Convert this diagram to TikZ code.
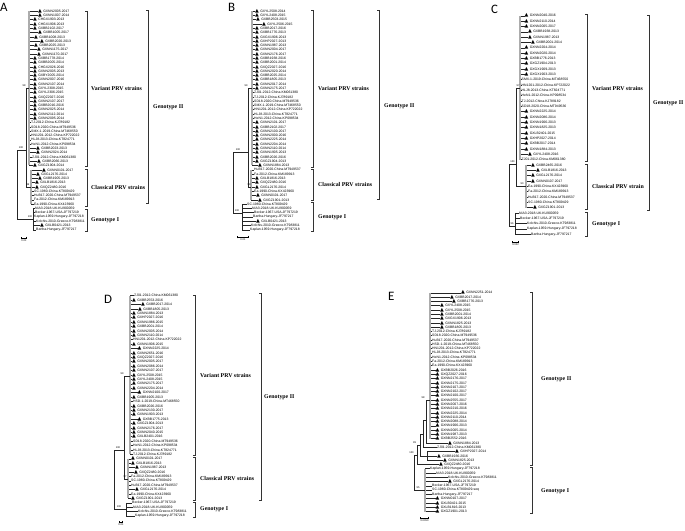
\documentclass[tikz,border=0pt]{standalone}
\usepackage{fontspec}
\usepackage{tikz}
\usetikzlibrary{arrows.meta}
\newfontfamily\leaffam{Liberation Sans}
\newfontfamily\labfam{Liberation Serif}
\newfontfamily\letfam{Carlito}
\newfontfamily\symfam{DejaVu Sans}
\newcommand{\tri}{{\symfam\fontsize{4.2}{4}\selectfont\char"25B2}\hspace{1.1pt}}

\begin{document}
\begin{tikzpicture}[x=0.03cm, y=-0.03cm,
    leaf/.style={anchor=west, inner sep=0pt, font=\leaffam\fontsize{2.9}{3}\selectfont},
    branch/.style={line width=0.3pt, black!85},
    spine/.style={line width=0.9pt, gray!65},
    bracket/.style={line width=0.45pt, black!80},
    grp/.style={anchor=west, inner sep=0pt, font=\labfam\bfseries\fontsize{5}{6}\selectfont},
    boot/.style={inner sep=0pt, font=\leaffam\fontsize{2.2}{2.5}\selectfont},
    panel/.style={anchor=base west, inner sep=0pt, font=\letfam\fontsize{11}{12}\selectfont},
    sbar/.style={line width=0.6pt, {Bar[width=2.5pt]}-{Bar[width=2.5pt]}}]
    \useasboundingbox (0,0) rectangle (685,530);

    % Panel letters
    \node[panel] (lA) at (0,11.5) {A};
    \node[panel] (lB) at (228,11.5) {B};
    \node[panel] (lC) at (491,13) {C};
    \node[panel] (lD) at (104,303) {D};
    \node[panel] (lE) at (388,300) {E};

    % ---------------- Tree A ----------------
    \foreach [count=\i] \px/\lx/\lab in {
        29/38/\tri GXNN2005-2017, 29/38/\tri GXNN1007-2014, 29/33/\tri CHGX1903-2013,
        29/33/\tri CHGX1906-2013, 29/33/\tri GXBB2102-2017, 29/38/\tri GXBB1005-2017,
        29/34/\tri GXBB1008-2013, 29/40/\tri GXBB2020-2013, 29/34/\tri GXBB2025-2013,
        29/37/\tri GXNN1175-2017, 29/37/\tri GXNN1170-2017, 29/33/\tri GXBB1778-2014,
        29/33/\tri GXBB2005-2014, 29/33/\tri CHGX2026-2016, 29/33/\tri GXNN2005-2013,
        29/33/\tri GXBY2005-2014, 29/33/\tri GXNN2007-2016, 29/33/\tri GXNN2107-2014,
        29/33/\tri GXYL2308-2015, 29/33/\tri GXYL2306-2015, 29/33/\tri GXQZ2027-2016,
        29/33/\tri GXNN2107-2017, 29/33/\tri GXBB2016-2016, 29/33/\tri GXNN2025-2014,
        29/33/\tri GXNN2112-2014, 29/33/\tri GXNN2095-2014,
        29/31/TJ-2012-China-KJ789182, 29/31/SD18-2020-China-MT949536,
        29/31/SMX-1-2019-China-MT468550, 29/31/HN1201-2012-China-KP722022,
        29/31/HLJ8-2013-China-KT824771, 29/31/HeN1-2012-China-KP098534,
        29/36/\tri GXBB2023-2013, 29/36/\tri GXNN2024-2014, 29/32/ZJ01-2012-China-KM061380,
        29/37/\tri GXBB2066-2013, 29/33/\tri GXGZ1904-2014,
        31/42/\tri GXNN0101-2017, 31/36/\tri GXGL2176-2014, 31/38/\tri GXBB1905-2013,
        31/35/\tri GXLB1816-2013, 31/35/\tri GXQZ2480-2016,
        31/34/SC-1980-China-KT809429, 31/34/HuB17-2020-China-MT949537,
        31/34/Fa-2012-China-KM189913, 31/34/Ea-1990-China-KX423960,
        33/35/NIA3-2018-UK-KU900059, 33/35/Becker-1967-USA-JF797219,
        33/34/Kaplan-1959-Hungary-JF797218, 33/36/Kolchis-2010-Greece-KT983811,
        33/40/\tri GXLB0421-2013, 33/36/Bartha-Hungary-JF797217} {
        \coordinate (Ab\i) at (\px, {11+(\i-1)*4.29});
        \node[leaf] (A\i) at (\lx, {11+(\i-1)*4.29}) {\lab};
        \draw[branch] (Ab\i) -- (A\i.west);
    }
    \coordinate (Aroot) at (17,150);
    \coordinate (Ag2) at (26,150);
    \coordinate (Ag1) at (33,219);
    \coordinate (Avar) at (29,88);
    \coordinate (Acla) at (31,187);
    \draw[spine] (Ab1) -- (Ab37);
    \draw[spine] (Ab38) -- (Ab46);
    \draw[branch] (Ab47) -- (Ab52);
    \draw[branch] (Ag2 |- Avar) -- (Avar) (Ag2 |- Acla) -- (Acla) (Ag2 |- Avar) -- (Ag2 |- Acla);
    \draw[branch] (Ag2) -- (Aroot) |- (Ag1);
    \node[boot] at (21,147.5) {100};
    \node[boot] at (24,85.5) {98};
    \node[boot] at (28,184.5) {99};
    \node[boot] at (30,216.5) {100};
    % brackets and groups
    \draw[bracket] (85,11) -| (87,166) -- (85,166);
    \draw[bracket] (85,169) -| (87,206) -- (85,206);
    \draw[bracket] (85,209) -| (87,231) -- (85,231);
    \draw[bracket] (146,10) -| (148,203) -- (146,203);
    \node[grp] (Avl) at (91,89) {Variant PRV strains};
    \node[grp] (Acl) at (91,188) {Classical PRV strains};
    \node[grp] (Ag1l) at (91,220) {Genotype I};
    \node[grp] (Ag2l) at (153,107) {Genotype II};
    \draw[sbar] (21,238) -- node[boot, below=1pt] {0.01} (27,238);

    % ---------------- Tree B ----------------
    \foreach [count=\i] \px/\lx/\lab in {
        252/255/\tri GXYL2508-2014, 252/255/\tri GXYL2408-2015, 252/256/\tri GXBB2503-2015,
        252/262/\tri GXYL2506-2015, 252/255/\tri GXBB2017-2016, 252/255/\tri GXBB1776-2013,
        252/255/\tri GXGX1906-2013, 252/255/\tri GXHP2027-2013, 252/255/\tri GXNN1987-2013,
        252/255/\tri GXNN2004-2017, 252/255/\tri GXNN2176-2017, 252/255/\tri GXBB1938-2016,
        252/255/\tri GXBB2001-2014, 252/255/\tri GXQZ2027-2016, 252/255/\tri GXNN2020-2014,
        252/255/\tri GXBB2025-2014, 252/255/\tri GXBB1805-2013, 252/255/\tri GXNN2017-2014,
        252/255/\tri GXNN2175-2017,
        252/254/ZJ01-2012-China-KM061380, 252/254/TJ-2012-China-KJ789182,
        252/254/SD18-2020-China-MT949536, 252/254/SMX-1-2019-China-MT468550,
        252/254/HN1201-2012-China-KP722022, 252/254/HLJ8-2013-China-KT824771,
        252/254/HeN1-2012-China-KP098534,
        252/255/\tri GXNN2101-2017, 252/255/\tri GXBB2102-2017, 252/255/\tri GXNN2100-2017,
        252/255/\tri GXNN2000-2016, 252/255/\tri GXNN2225-2014, 252/255/\tri GXNN2204-2014,
        252/255/\tri GXNN2110-2014, 252/255/\tri GXNN1905-2013, 252/255/\tri GXBB2026-2016,
        252/255/\tri GXGZ1904-2013, 252/258/\tri GXNN1884-2013,
        251/254/HuB17-2020-China-MT949537, 251/254/Fa-2012-China-KM189913,
        251/255/\tri GXLB1816-2013, 251/255/\tri GXQZ2480-2016, 251/255/\tri GXGL2176-2014,
        251/254/Ea-1990-China-KX423960, 251/256/\tri GXNN0101-2017, 251/258/\tri GXGZ1901-2013,
        242/247/SC-1980-China-KT809429, 242/252/NIA3-2018-UK-KU900059,
        242/254/Becker-1967-USA-JF797219, 242/253/Bartha-Hungary-JF797217,
        242/256/\tri GXLB0421-2013, 242/251/Kolchis-2010-Greece-KT983811,
        242/250/Kaplan-1959-Hungary-JF797218} {
        \coordinate (Bb\i) at (\px, {11+(\i-1)*4.29});
        \node[leaf] (B\i) at (\lx, {11+(\i-1)*4.29}) {\lab};
        \draw[branch] (Bb\i) -- (B\i.west);
    }
    \coordinate (Broot) at (233,152);
    \coordinate (Bg2) at (248,152);
    \coordinate (Bg1) at (242,213);
    \coordinate (Bvar) at (252,88);
    \coordinate (Bcla) at (251,187);
    \draw[spine] (Bb1) -- (Bb37);
    \draw[spine] (Bb38) -- (Bb45);
    \draw[branch] (Bb46) -- (Bb52);
    \draw[branch] (Bg2 |- Bvar) -- (Bvar) (Bg2 |- Bcla) -- (Bcla) (Bg2 |- Bvar) -- (Bg2 |- Bcla);
    \draw[branch] (Bg2) -- (Broot) |- (Bg1);
    \node[boot] at (238,149.5) {100};
    \node[boot] at (246,85.5) {99};
    \node[boot] at (249,184.5) {98};
    \node[boot] at (237,210.5) {100};
    \draw[bracket] (311,10) -| (313,167) -- (311,167);
    \draw[bracket] (311,169) -| (313,200) -- (311,200);
    \draw[bracket] (311,202) -| (313,231) -- (311,231);
    \draw[bracket] (377,10) -| (379,199) -- (377,199);
    \node[grp] (Bvl) at (318,89) {Variant PRV strains};
    \node[grp] (Bcl) at (318,185) {Classical PRV strains};
    \node[grp] (Bg1l) at (318,217) {Genotype I};
    \node[grp] (Bg2l) at (384,106) {Genotype II};
    \draw[sbar] (237,237) -- node[boot, below=1pt] {0.01} (249,237);

    % ---------------- Tree C ----------------
    \foreach [count=\i] \px/\lx/\lab in {
        520/524.5/\tri GXNN2040-2016, 520/524.5/\tri GXNN2110-2014, 520/524.5/\tri GXNN2005-2017,
        520/528/\tri GXBB1938-2013, 520/528/\tri GXNN1987-2013, 520/531/\tri GXBB2001-2014,
        520/524.5/\tri GXNN2204-2014, 520/524.5/\tri GXNN2020-2014, 520/524.5/\tri GXBB1776-2013,
        520/524.5/\tri GXGZ1904-2013, 520/524.5/\tri GXGX1909-2013, 520/524.5/\tri GXGX1903-2013,
        520/521.5/SMX-1-2019-China-MT468550, 520/521.5/HN1201-2012-China-KP722022,
        520/521.5/HLJ8-2013-China-KT824771, 520/521.5/HeN1-2012-China-KP098534,
        520/521.5/TJ-2012-China-KJ789182, 520/521.5/SD18-2020-China-MT949536,
        520/524.5/\tri GXNN2225-2014, 520/524.5/\tri GXNN2086-2014, 520/524.5/\tri GXNN1906-2013,
        520/524.5/\tri GXNN1825-2013, 520/524.5/\tri GXLB2401-2015, 520/524.5/\tri GXHP2027-2014,
        520/524.5/\tri GXBB2017-2014, 520/524.5/\tri GXNN1884-2013, 520/528/\tri GXYL2408-2016,
        520/521.5/ZJ01-2012-China-KM061380,
        526/531/\tri GXBB2465-2016, 526/536/\tri GXLB1816-2013, 526/531/\tri GXGL2176-2014,
        526/531/\tri GXNN0107-2017, 526/528/Ea-1990-China-KX423960,
        526/528/Fa-2012-China-KM189913, 526/528/HuB17-2020-China-MT949537,
        526/528/SC-1980-China-KT809429, 526/533/\tri GXGZ1901-2013,
        515/519/NIA3-2018-UK-KU900059, 515/520/Becker-1967-USA-JF797219,
        515/527/Kolchis-2010-Greece-KT983811, 515/527/Kaplan-1959-Hungary-JF797218,
        515/531/Bartha-Hungary-JF797217} {
        \coordinate (Cb\i) at (\px, {15.7+(\i-1)*5.33});
        \node[leaf] (C\i) at (\lx, {15.7+(\i-1)*5.33}) {\lab};
        \draw[branch] (Cb\i) -- (C\i.west);
    }
    \coordinate (Croot) at (509,164);
    \coordinate (Cg2) at (516,164);
    \coordinate (Cg1) at (515,226);
    \coordinate (Cvar) at (520,88);
    \coordinate (Ccla) at (526,186);
    \draw[spine] (Cb1) -- (Cb28);
    \draw[spine] (Cb29) -- (Cb37);
    \draw[branch] (Cb38) -- (Cb42);
    \draw[branch] (Cg2 |- Cvar) -- (Cvar) (Cg2 |- Ccla) -- (Ccla) (Cg2 |- Cvar) -- (Cg2 |- Ccla);
    \draw[branch] (Cg2) -- (Croot) |- (Cg1);
    \node[boot] at (512.5,161.5) {100};
    \node[boot] at (518,85.5) {97};
    \node[boot] at (522,183.5) {90};
    \node[boot] at (512,223.5) {96};
    \draw[bracket] (585,14) -| (587,161) -- (585,161);
    \draw[bracket] (585,164) -| (587,209) -- (585,209);
    \draw[bracket] (585,212) -| (587,236) -- (585,236);
    \draw[bracket] (647,15) -| (649,210) -- (647,210);
    \node[grp] (Cvl) at (592,89) {Variant PRV strains};
    \node[grp] (Ccl) at (592,187) {Classical PRV strain};
    \node[grp] (Cg1l) at (592,224) {Genotype I};
    \node[grp] (Cg2l) at (653,103) {Genotype II};
    \draw[sbar] (512,242) -- node[boot, below=1pt] {0.002} (519,242);

    % ---------------- Tree D ----------------
    \foreach [count=\i] \px/\lx/\lab in {
        130/134/ZJ01-2012-China-KM061380, 130/132/\tri GXBB2553-2016, 130/141/\tri GXBB2017-2014,
        130/138/\tri GXBB1805-2013, 130/132/\tri GXNN1884-2013, 130/132/\tri GXHP2027-2016,
        130/132/\tri GXNN1986-2015, 130/132/\tri GXBB2001-2014, 130/132/\tri GXNN2005-2014,
        130/132/\tri GXNN2110-2014, 130/133/HN1201-2012-China-KP722022,
        130/132/\tri GXNN1906-2015, 130/137.5/\tri GXNN2225-2014, 130/132/\tri GXNN2651-2016,
        130/132/\tri GXQZ2027-2016, 130/132/\tri GXNN2005-2017, 130/132/\tri GXNN2086-2014,
        130/132/\tri GXNN2107-2017, 130/132/\tri GXYL2508-2015, 130/132/\tri GXYL2408-2015,
        130/132/\tri GXNN2175-2017, 130/132/\tri GXNN2204-2014, 130/137.5/\tri GXNN2100-2017,
        130/132/\tri GXBB1905-2013, 130/133/HSD-1-2019-China-MT468550,
        130/132/\tri GXBB2026-2016, 130/132/\tri GXNN2130-2017, 130/132/\tri GXNN1903-2013,
        130/137.5/\tri GXBB1775-2013, 130/132/\tri GXGZ1904-2013, 130/132/\tri GXNN2176-2017,
        130/132/\tri GXNN2040-2015, 130/132/\tri GXLB2401-2016,
        130/133/SD18-2020-China-MT949536, 130/133/HeN1-2012-China-KP098534,
        130/133/HLJ8-2013-China-KT824771, 130/133/TJ-2012-China-KJ789182,
        128/131/\tri GXNN0101-2017, 128/131/\tri GXLB1816-2013, 128/135/\tri GXNN1987-2013,
        128/134/\tri GXQZ2480-2016, 128/131/Fa-2012-China-KM189913,
        128/131/SC-1980-China-KT809429, 128/131/HuB17-2020-China-MT949537,
        128/135/\tri GXGL2176-2014, 128/131/Ea-1990-China-KX423960, 128/131/\tri GXGZ1901-2013,
        126/132/Becker-1967-USA-JF797219, 126/133/NIA3-2018-UK-KU900059,
        126/138/Kolchis-2010-Greece-KT983811, 126/135/Kaplan-1959-Hungary-JF797218} {
        \coordinate (Db\i) at (\px, {295.5+(\i-1)*4.41});
        \node[leaf] (D\i) at (\lx, {295.5+(\i-1)*4.41}) {\lab};
        \draw[branch] (Db\i) -- (D\i.west);
    }
    \coordinate (Droot) at (114,450);
    \coordinate (Dg2) at (124,450);
    \coordinate (Dg1) at (126,509);
    \coordinate (Dvar) at (130,376);
    \coordinate (Dcla) at (128,479);
    \draw[spine] (Db1) -- (Db37);
    \draw[spine] (Db38) -- (Db47);
    \draw[branch] (Db48) -- (Db51);
    \draw[branch] (Dg2 |- Dvar) -- (Dvar) (Dg2 |- Dcla) -- (Dcla) (Dg2 |- Dvar) -- (Dg2 |- Dcla);
    \draw[branch] (Dg2) -- (Droot) |- (Dg1);
    \node[boot] at (118,447.5) {100};
    \node[boot] at (122,373.5) {99};
    \node[boot] at (125,476.5) {97};
    \node[boot] at (119,506.5) {100};
    \draw[bracket] (193,295) -| (195,455) -- (193,455);
    \draw[bracket] (193,457) -| (195,500) -- (193,500);
    \draw[bracket] (193,502) -| (195,517) -- (193,517);
    \draw[bracket] (259,293) -| (261,500) -- (259,500);
    \node[grp] (Dvl) at (200,376) {Variant PRV strains};
    \node[grp] (Dcl) at (200,479) {Classical PRV strains};
    \node[grp] (Dg1l) at (200,509) {Genotype I};
    \node[grp] (Dg2l) at (264,397) {Genotype II};
    \draw[sbar] (119,522) -- node[boot, below=1pt] {0.01} (123,522);

    % ---------------- Tree E ----------------
    \foreach [count=\i] \px/\lx/\lab in {
        430/461/\tri GXNN2251-2014, 430/450/\tri GXBB2017-2014, 430/452/\tri GXBB1776-2013,
        430/440/\tri GXYL2408-2015, 430/440/\tri GXYL2508-2015, 430/440/\tri GXBB2001-2014,
        430/440/\tri GXGX1906-2013, 430/440/\tri GXNN1825-2013, 430/440/\tri GXBB1805-2013,
        430/432/TJ-2012-China-KJ789182, 430/432/SD18-2020-China-MT949536,
        430/432/HuB17-2020-China-MT949537, 430/432/HSD-1-2019-China-MT468550,
        430/432/HN1201-2012-China-KP722022, 430/432/HLJ8-2013-China-KT824771,
        430/432/HeN1-2012-China-KP098534, 430/432/Fa-2012-China-KM189913,
        430/432/Ea-1990-China-KX423960,
        430/435.5/\tri GXBB2026-2016, 430/435.5/\tri GXQZ2027-2016, 430/435.5/\tri GXNN2176-2017,
        430/435.5/\tri GXNN2175-2017, 430/435.5/\tri GXNN2107-2017, 430/435.5/\tri GXNN2102-2017,
        430/435.5/\tri GXNN2100-2017, 430/435.5/\tri GXNN2555-2017, 430/435.5/\tri GXNN2007-2016,
        430/435.5/\tri GXNN2210-2016, 430/435.5/\tri GXNN2225-2014, 430/435.5/\tri GXNN2110-2014,
        430/435.5/\tri GXNN2088-2014, 430/435.5/\tri GXNN1906-2013, 430/435.5/\tri GXNN2005-2014,
        430/435.5/\tri GXNN1987-2013, 430/435.5/\tri GXBB2552-2016,
        426/448/\tri GXNN1884-2013, 423/437/ZJ01-2012-China-KM061380,
        427/455/\tri GXHP2027-2014, 427/437/\tri GXBB1936-2016, 427/443/\tri GXNN1825-2013,
        417/439/\tri GXQZ2480-2016,
        425/430/Kaplan-1959-Hungary-JF797218, 425/436/NIA3-2018-UK-KU900059,
        425/448/Kolchis-2010-Greece-KT983811, 425/448/\tri GXGL2176-2014,
        425/432/Becker-1967-USA-JF797219, 425/432/SC-1980-China-KT809429-seq,
        425/432/Bartha-Hungary-JF797217, 425/435.5/\tri GXNN0107-2017,
        425/435.5/\tri GXLB0421-2015, 425/435.5/\tri GXLB1816-2013,
        425/435.5/\tri GXGZ1901-2013} {
        \coordinate (Eb\i) at (\px, {292.7+(\i-1)*4.29});
        \node[leaf] (E\i) at (\lx, {292.7+(\i-1)*4.29}) {\lab};
        \draw[branch] (Eb\i) -- (E\i.west);
    }
    \coordinate (Eroot) at (414,455);
    \coordinate (Eg2) at (417,455);
    \coordinate (Eg1) at (425,490);
    \coordinate (En1) at (426,400);
    \coordinate (En2) at (423,420);
    \coordinate (En4) at (420,434);
    \coordinate (En3) at (427,455.7);
    \draw[spine] (Eb1) -- (Eb35);
    \draw[branch] (Eb38) -- (Eb40);
    \draw[spine] (Eb42) -- (Eb52);
    \draw[branch] (En1) -- (En1 -| Eb1) (En1) -- (Eb36);
    \draw[branch] (En2) -- (En2 -| En1) (En2) -- (Eb37);
    \draw[branch] (En4) -- (En4 -| En2) (En4) |- (En3);
    \draw[branch] (Eg2 |- En4) ++(0,11) coordinate (Eg2t) -- (Eg2t -| En4);
    \draw[branch] (Eg2t) -- (Eb41);
    \draw[branch] (Eg2) -- (Eroot) |- (Eg1);
    \node[boot] at (411.5,452.5) {100};
    \node[boot] at (414.5,442.5) {99};
    \node[boot] at (423,397.5) {98};
    \node[boot] at (418,487.5) {95};
    \draw[bracket] (530,292) -| (532,465) -- (530,465);
    \draw[bracket] (530,467) -| (532,513) -- (530,513);
    \node[grp] (Eg2l) at (541,379) {Genotype II};
    \node[grp] (Eg1l) at (541,491) {Genotype I};
    \draw[sbar] (420,518) -- node[boot, below=1pt] {0.0050} (429,518);
\end{tikzpicture}
\end{document}
